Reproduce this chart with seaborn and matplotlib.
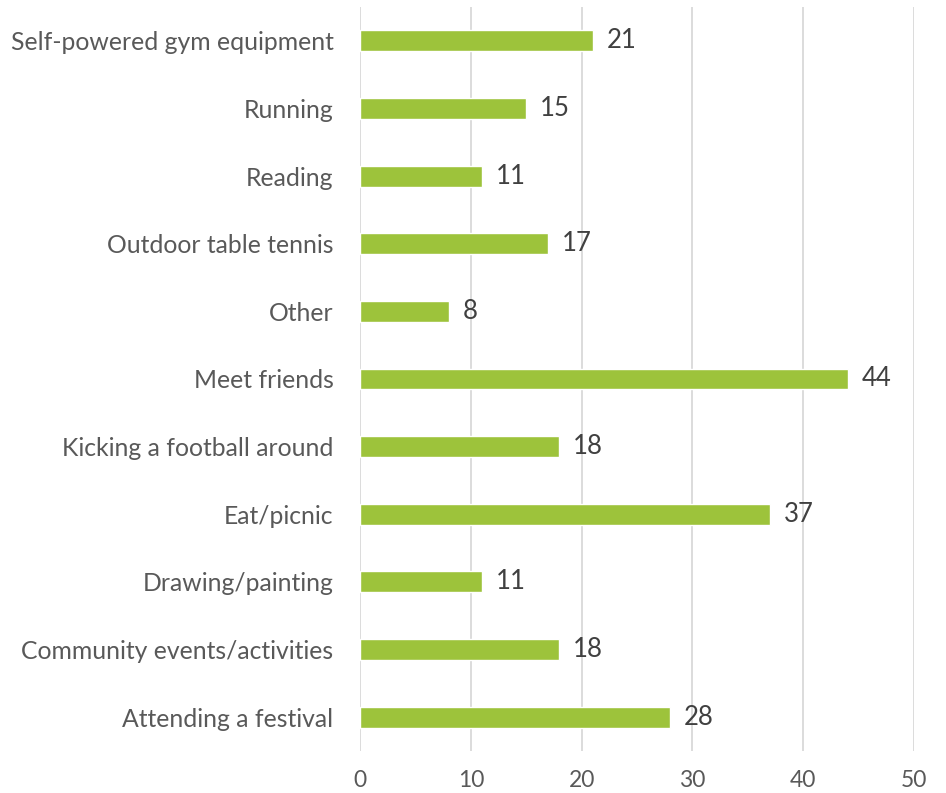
import matplotlib
matplotlib.use("Agg")
import matplotlib.pyplot as plt
import seaborn as sns
import pandas as pd

activities = [
    "Self-powered gym equipment", "Running", "Reading", "Outdoor table tennis",
    "Other", "Meet friends", "Kicking a football around", "Eat/picnic",
    "Drawing/painting", "Community events/activities", "Attending a festival",
]
counts = [21, 15, 11, 17, 8, 44, 18, 37, 11, 18, 28]
x_ticks = [0, 10, 20, 30, 40, 50]

df = pd.DataFrame({"activity": activities, "count": counts})

sns.set_theme(style="white")
plt.rcParams["font.family"] = ["Lato", "DejaVu Sans"]

fig = plt.figure(figsize=(9.46, 7.93), dpi=100)
ax = fig.add_axes([360 / 946, 42 / 793, (914 - 360) / 946, (751 - 7) / 793])

sns.barplot(data=df, y="activity", x="count", orient="h", order=activities,
            color="#9DC33B", width=0.31, saturation=1, ax=ax)
ax.bar_label(ax.containers[0], padding=10, fontsize=18.5, color="#404040")

ax.set_xlim(0, 50)
ax.set_ylim(10.5, -0.5)
ax.set_xticks(x_ticks)
ax.xaxis.grid(True, color="#D9D9D9", linewidth=1.3)
ax.set_axisbelow(True)
for s in ax.spines.values():
    s.set_visible(False)
ax.set(xlabel="", ylabel="")
ax.tick_params(axis="x", length=0, pad=14, labelsize=16.5, labelcolor="#595959")
ax.tick_params(axis="y", length=0, pad=19, labelsize=17.8, labelcolor="#595959")

fig.savefig("out.png", dpi=100, facecolor="white")
